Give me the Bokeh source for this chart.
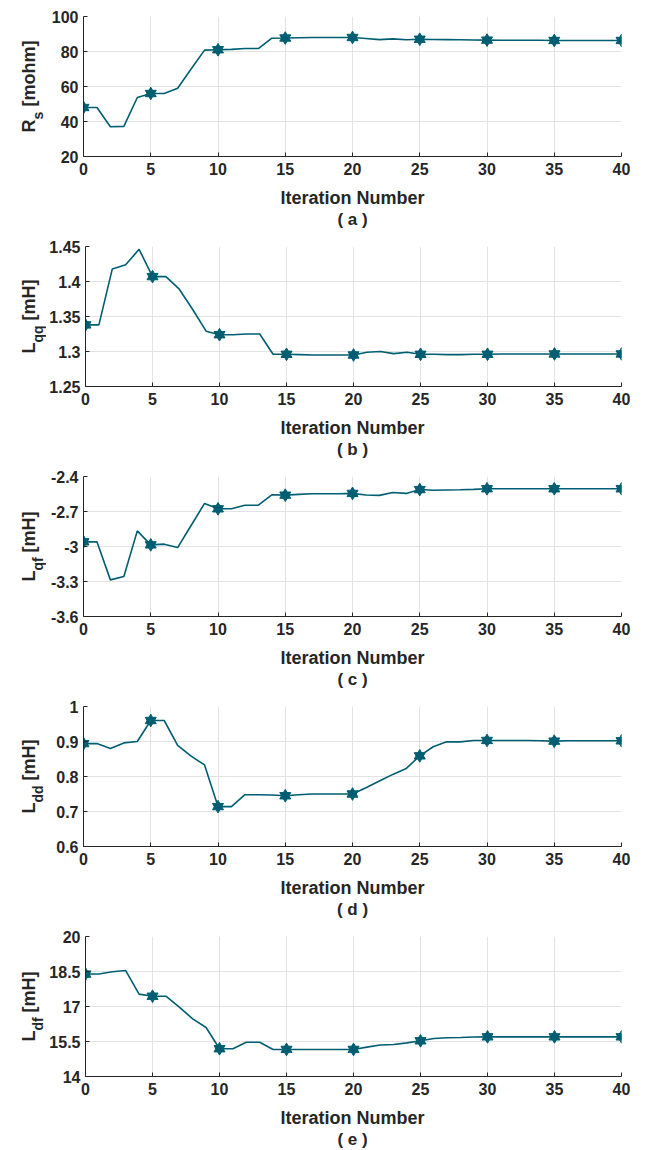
import math
from bokeh.plotting import figure
from bokeh.layouts import column, row
from bokeh.models import Range1d, FixedTicker, CustomJSTickFormatter, ColumnDataSource
from bokeh.core.properties import value
from bokeh.embed import file_html
from bokeh.resources import INLINE

# ---------------- data ----------------
iterations = list(range(41))
marker_iters = [0, 5, 10, 15, 20, 25, 30, 35, 40]

rs = [48, 48, 37, 37.2, 53.7, 56, 56, 59, 70, 80.8,
      81, 81.2, 81.7, 81.7, 87.6, 87.7, 87.9, 88, 88, 88,
      88, 87.4, 86.8, 87.2, 86.7, 87.0, 86.9, 86.8, 86.7, 86.6,
      86.5, 86.4, 86.4, 86.4, 86.4, 86.3, 86.3, 86.3, 86.3, 86.3, 86.3]

lqq = [1.338, 1.338, 1.418, 1.424, 1.446, 1.407, 1.407, 1.389, 1.360, 1.329,
       1.324, 1.324, 1.325, 1.325, 1.296, 1.296, 1.2955, 1.295, 1.295, 1.295,
       1.295, 1.299, 1.300, 1.297, 1.299, 1.296, 1.296, 1.2955, 1.2955, 1.296,
       1.296, 1.2965, 1.2965, 1.2965, 1.2965, 1.2965, 1.2965, 1.2965, 1.2965, 1.2965, 1.2965]

lqf = [-2.96, -2.96, -3.286, -3.257, -2.866, -2.986, -2.98, -3.009, -2.82, -2.631,
       -2.677, -2.677, -2.646, -2.646, -2.557, -2.56, -2.553, -2.548, -2.548, -2.548,
       -2.545, -2.558, -2.562, -2.537, -2.545, -2.512, -2.518, -2.516, -2.514, -2.51,
       -2.505, -2.505, -2.505, -2.505, -2.505, -2.505, -2.505, -2.505, -2.505, -2.505, -2.505]

ldd = [0.894, 0.894, 0.880, 0.896, 0.900, 0.960, 0.960, 0.889, 0.858, 0.833,
       0.714, 0.714, 0.748, 0.748, 0.747, 0.745, 0.748, 0.750, 0.750, 0.750,
       0.750, 0.768, 0.787, 0.806, 0.823, 0.859, 0.885, 0.899, 0.899, 0.903,
       0.903, 0.903, 0.903, 0.903, 0.902, 0.901, 0.902, 0.902, 0.902, 0.902, 0.902]

ldf = [18.39, 18.39, 18.49, 18.54, 17.53, 17.44, 17.44, 16.97, 16.47, 16.10,
       15.19, 15.19, 15.47, 15.47, 15.16, 15.16, 15.16, 15.16, 15.16, 15.16,
       15.16, 15.26, 15.35, 15.37, 15.44, 15.53, 15.63, 15.66, 15.67, 15.69,
       15.70, 15.70, 15.70, 15.70, 15.70, 15.70, 15.70, 15.70, 15.70, 15.70, 15.70]

x_ticks = [0, 5, 10, 15, 20, 25, 30, 35, 40]
x_tick_labels = ["0", "5", "10", "15", "20", "25", "30", "35", "40"]

rs_ticks = [20, 40, 60, 80, 100]
rs_tick_labels = ["20", "40", "60", "80", "100"]
lqq_ticks = [1.25, 1.3, 1.35, 1.4, 1.45]
lqq_tick_labels = ["1.25", "1.3", "1.35", "1.4", "1.45"]
lqf_ticks = [-3.6, -3.3, -3.0, -2.7, -2.4]
lqf_tick_labels = ["-3.6", "-3.3", "-3", "-2.7", "-2.4"]
ldd_ticks = [0.6, 0.7, 0.8, 0.9, 1.0]
ldd_tick_labels = ["0.6", "0.7", "0.8", "0.9", "1"]
ldf_ticks = [14, 15.5, 17, 18.5, 20]
ldf_tick_labels = ["14", "15.5", "17", "18.5", "20"]

y_main = ["R", "L", "L", "L", "L"]
y_sub = ["s", "qq", "qf", "dd", "df"]
y_unit = ["[mohm]", "[mH]", "[mH]", "[mH]", "[mH]"]
captions = ["( a )", "( b )", "( c )", "( d )", "( e )"]
x_title = "Iteration Number"

# ---------------- style / layout ----------------
LINE = "#005e72"
TXT = "#262626"
GRID = "#e3e3e3"
FONT = "Liberation Sans"

W = {"R": 722, "L": 611, "s": 556, "q": 611, "f": 333, "d": 611, " ": 278,
     "[": 333, "]": 333, "m": 889, "o": 611, "h": 611, "H": 722}


def tw(s, size):
    return sum(W.get(c, 600) for c in s) / 1000.0 * size


def fmt(tvals, tlabs):
    return CustomJSTickFormatter(args=dict(tv=tvals, tl=tlabs), code="""
        for (let i = 0; i < tv.length; i++) {
            if (Math.abs(tv[i] - tick) < 1e-9) return tl[i];
        }
        return String(tick);
    """)


PAGE_W = 645
YLAB_W = 46            # strip holding the rotated y title
TOP, FH, BOT = 16, 140, 30
FRAME_X0 = 83          # page x of the frame's left edge
FW = 538
UPPER_H = TOP + FH + BOT
STRIP_H = 230 - UPPER_H


def blank(width, height, top=0, bottom=0):
    f = figure(width=width, height=height, output_backend="svg", toolbar_location=None,
               x_range=Range1d(0, width), y_range=Range1d(0, height - top - bottom),
               x_axis_location=None, y_axis_location=None,
               min_border_left=0, min_border_right=0,
               min_border_top=top, min_border_bottom=bottom)
    f.grid.visible = False
    f.outline_line_color = None
    f.background_fill_color = "white"
    f.border_fill_color = "white"
    return f


def make_panel(vals, yt, ytl, main, sub, unit, cap):
    lo, hi = yt[0], yt[-1]
    pw = PAGE_W - YLAB_W
    left = FRAME_X0 - YLAB_W
    p = figure(width=pw, height=UPPER_H, output_backend="svg",
               toolbar_location=None, x_range=Range1d(0, 40), y_range=Range1d(lo, hi),
               min_border_left=left, min_border_right=pw - left - FW,
               min_border_top=TOP, min_border_bottom=BOT)
    p.outline_line_color = None
    p.background_fill_color = "white"
    p.border_fill_color = "white"

    for ax in (p.xaxis[0], p.yaxis[0]):
        ax.axis_line_color = TXT
        ax.axis_line_width = 1
        ax.major_tick_line_color = TXT
        ax.major_tick_in = 4
        ax.major_tick_out = 0
        ax.minor_tick_line_color = None
        ax.major_label_text_font = FONT
        ax.major_label_text_font_style = "bold"
        ax.major_label_text_font_size = "16px"
        ax.major_label_text_color = TXT
    p.xaxis[0].ticker = FixedTicker(ticks=x_ticks)
    p.xaxis[0].formatter = fmt(x_ticks, x_tick_labels)
    p.xaxis[0].major_label_standoff = 6
    p.yaxis[0].ticker = FixedTicker(ticks=yt)
    p.yaxis[0].formatter = fmt(yt, ytl)
    p.yaxis[0].major_label_standoff = 5

    p.xgrid[0].ticker = FixedTicker(ticks=x_ticks)
    p.ygrid[0].ticker = FixedTicker(ticks=yt)
    for g in (p.xgrid[0], p.ygrid[0]):
        g.grid_line_color = GRID
        g.grid_line_width = 1

    src = ColumnDataSource(dict(x=iterations, y=vals))
    p.line("x", "y", source=src, line_color=LINE, line_width=1.6)
    mk = ColumnDataSource(dict(x=marker_iters, y=[vals[i] for i in marker_iters]))
    p.scatter("x", "y", source=mk, marker="triangle", size=11,
              fill_color=LINE, line_color=LINE, line_width=1)
    p.scatter("x", "y", source=mk, marker="inverted_triangle", size=11,
              fill_color=LINE, line_color=LINE, line_width=1)

    # rotated y title with subscript; strip frame matches the plot frame vertically
    yl = blank(YLAB_W, UPPER_H, top=TOP, bottom=BOT)
    ms, ss, gap = 18, 14, 5
    w_main, w_sub, w_unit = tw(main, ms), tw(sub, ss), tw(unit, ms)
    total = w_main + w_sub + gap + w_unit
    start = FH / 2 - total / 2
    common = dict(angle=math.pi / 2, text_font=value(FONT), text_font_style="bold",
                  text_color=TXT, text_align="center", text_baseline="middle")
    yl.text(x=[28], y=[start + w_main / 2], text=[main], text_font_size=f"{ms}px", **common)
    yl.text(x=[37], y=[start + w_main + w_sub / 2], text=[sub],
            text_font_size=f"{ss}px", **common)
    yl.text(x=[28], y=[start + w_main + w_sub + gap + w_unit / 2], text=[unit],
            text_font_size=f"{ms}px", **common)

    # x title and caption strip
    st = blank(PAGE_W, STRIP_H)
    cx = FRAME_X0 + FW / 2
    st.text(x=[cx], y=[STRIP_H - 11], text=[x_title], text_font=value(FONT),
            text_font_style="bold", text_font_size="18px", text_color=TXT,
            text_align="center", text_baseline="middle")
    st.text(x=[cx], y=[STRIP_H - 33], text=[cap], text_font=value(FONT),
            text_font_style="bold", text_font_size="17px", text_color=TXT,
            text_align="center", text_baseline="middle")

    return column(row(yl, p, spacing=0), st, spacing=0)


series = [rs, lqq, lqf, ldd, ldf]
tick_sets = [(rs_ticks, rs_tick_labels), (lqq_ticks, lqq_tick_labels),
             (lqf_ticks, lqf_tick_labels), (ldd_ticks, ldd_tick_labels),
             (ldf_ticks, ldf_tick_labels)]

panels = []
for i in range(5):
    t, tl = tick_sets[i]
    panels.append(make_panel(series[i], t, tl, y_main[i], y_sub[i], y_unit[i], captions[i]))

layout = column(*panels, spacing=0)
open("out.html", "w").write(file_html(layout, INLINE))
